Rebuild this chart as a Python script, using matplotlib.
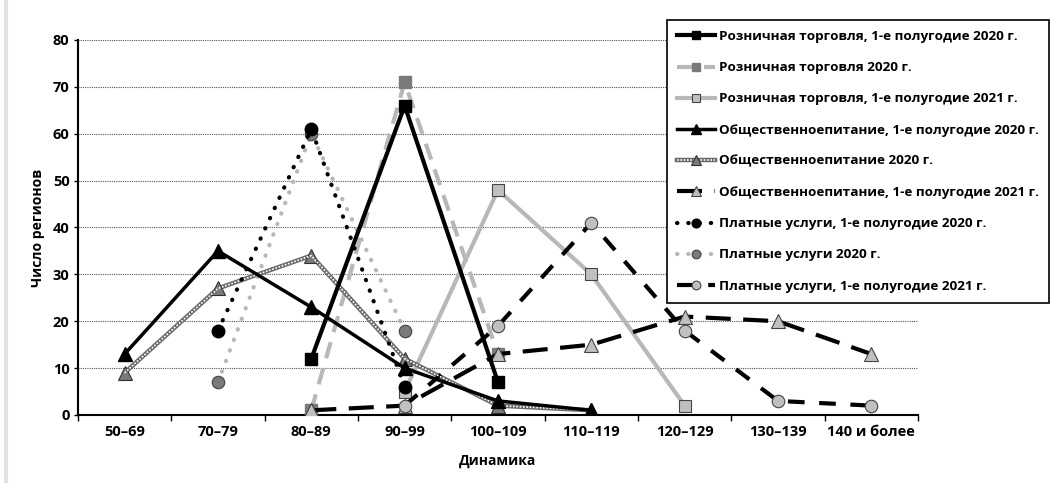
import matplotlib
matplotlib.use("Agg")
import matplotlib.pyplot as plt
import numpy as np
from matplotlib.legend_handler import HandlerTuple
from matplotlib.lines import Line2D

plt.rcParams["font.family"] = ["Open Sans", "DejaVu Sans"]
plt.rcParams["font.weight"] = "bold"

categories = ["50–69", "70–79", "80–89", "90–99", "100–109", "110–119",
              "120–129", "130–139", "140 и более"]

nan = np.nan
retail_h1_2020 = [nan, nan, 12, 66, 7, nan, nan, nan, nan]
retail_2020 = [nan, nan, 1, 71, 13, nan, nan, nan, nan]
retail_h1_2021 = [nan, nan, nan, 5, 48, 30, 2, nan, nan]
food_h1_2020 = [13, 35, 23, 10, 3, 1, nan, nan, nan]
food_2020 = [9, 27, 34, 12, 2, 1, nan, nan, nan]
food_h1_2021 = [nan, nan, 1, 2, 13, 15, 21, 20, 13]
paid_h1_2020 = [nan, 18, 61, 6, nan, nan, nan, nan, nan]
paid_2020 = [nan, 7, 60, 18, nan, nan, nan, nan, nan]
paid_h1_2021 = [nan, nan, nan, 2, 19, 41, 18, 3, 2]

labels = [
    "Розничная торговля, 1-е полугодие 2020 г.",
    "Розничная торговля 2020 г.",
    "Розничная торговля, 1-е полугодие 2021 г.",
    "Общественноепитание, 1-е полугодие 2020 г.",
    "Общественноепитание 2020 г.",
    "Общественноепитание, 1-е полугодие 2021 г.",
    "Платные услуги, 1-е полугодие 2020 г.",
    "Платные услуги 2020 г.",
    "Платные услуги, 1-е полугодие 2021 г.",
]

fig = plt.figure(figsize=(10.62, 4.83), dpi=100)
ax = fig.add_axes([0.0734, 0.1408, 0.7910, 0.7764])
x = np.arange(len(categories))

LG = "#b8b8b8"   # light gray line
DG = "#7a7a7a"   # dark gray marker
MG = "#c0c0c0"   # light gray marker

def line(vals, **kw):
    v = np.array(vals, dtype=float)
    m = ~np.isnan(v)
    return ax.plot(x[m], v[m], **kw)[0]

handles = []
handles.append(line(retail_h1_2020, color="black", lw=3, marker="s", ms=9,
                    mfc="black", mec="black", zorder=5))
handles.append(line(retail_2020, color=LG, lw=3, ls=(0, (4, 2.5)), marker="s",
                    ms=9, mfc=DG, mec=DG, zorder=4))
handles.append(line(retail_h1_2021, color=LG, lw=3, marker="s", ms=9,
                    mfc=MG, mec="#444444", mew=0.8, zorder=4))
handles.append(line(food_h1_2020, color="black", lw=2.5, marker="^", ms=10,
                    mfc="black", mec="black", zorder=5))
line(food_2020, color="#6a6a6a", lw=3.2, marker="^", ms=10,
     mfc=DG, mec="#333333", mew=0.8, zorder=4)
line(food_2020, color="white", lw=1.2, ls=(0, (1, 1)), zorder=4.1)
# legend proxy for the hatched line
handles.append((Line2D([], [], color="#6a6a6a", lw=3.2),
                Line2D([], [], color="white", lw=1.2, ls=(0, (1, 1))),
                Line2D([], [], ls="none", marker="^", ms=10, mfc=DG,
                       mec="#333333", mew=0.8)))
handles.append(line(food_h1_2021, color="black", lw=3, ls=(0, (6, 3)),
                    marker="^", ms=10, mfc=MG, mec="#444444", mew=0.8, zorder=4))
handles.append(line(paid_h1_2020, color="black", lw=3, ls=(0, (0.1, 2.6)),
                    dash_capstyle="round", marker="o", ms=9, mfc="black",
                    mec="black", zorder=5))
handles.append(line(paid_2020, color=LG, lw=3, ls=(0, (0.1, 2.6)),
                    dash_capstyle="round", marker="o", ms=9, mfc=DG,
                    mec="#444444", mew=0.8, zorder=4))
handles.append(line(paid_h1_2021, color="black", lw=3, ls=(0, (4, 3.5)),
                    marker="o", ms=9, mfc=MG, mec="#444444", mew=0.8, zorder=4))

ax.set_xlim(-0.5, len(categories) - 0.5)
ax.set_ylim(0, 80)
ax.set_yticks(range(0, 81, 10))
ax.set_xticks(x)
ax.set_xticklabels(categories)
ax.set_xticks(np.arange(-0.5, len(categories), 1), minor=True)
ax.tick_params(axis="x", which="major", length=0, pad=7, labelsize=10.5)
ax.tick_params(axis="x", which="minor", length=4, width=1, direction="out")
ax.tick_params(axis="y", length=3, width=1, labelsize=10.5, pad=3)
for lbl in ax.get_xticklabels() + ax.get_yticklabels():
    lbl.set_fontweight("bold")

ax.yaxis.grid(True, color="#555555", lw=0.8, ls=(0, (1, 1)))
ax.set_axisbelow(True)
for s in ("top", "right"):
    ax.spines[s].set_visible(False)
for s in ("left", "bottom"):
    ax.spines[s].set_linewidth(1.5)

ax.set_xlabel("Динамика", fontsize=10, fontweight="bold", labelpad=11)
ax.set_ylabel("Число регионов", fontsize=10, fontweight="bold", labelpad=6)

leg = fig.legend(handles, labels, loc="upper left",
                 bbox_to_anchor=(667 / 1062, 1 - 20 / 483), borderaxespad=0,
                 frameon=True, fancybox=False, edgecolor="black", framealpha=1,
                 prop={"size": 9.7, "weight": "bold"}, labelspacing=1.35,
                 handlelength=2.8, handletextpad=0.3, borderpad=0.75,
                 markerscale=0.7,
                 handler_map={tuple: HandlerTuple(ndivide=1, pad=0)})
leg.get_frame().set_linewidth(1.2)

# faint page edge on the left
fig.add_artist(Line2D([0.006, 0.006], [0, 1], color="#e2e2e2", lw=3,
                      transform=fig.transFigure))

fig.savefig("out.png", dpi=100)
